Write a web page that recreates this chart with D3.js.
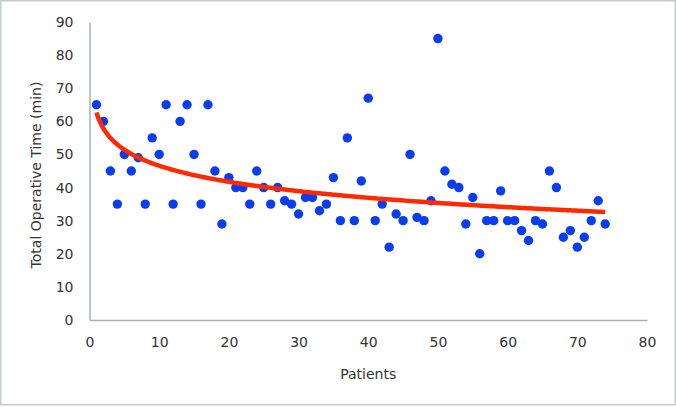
<!DOCTYPE html>
<html>
<head>
<meta charset="utf-8">
<script src="https://cdn.jsdelivr.net/npm/d3@7"></script>
<style>
  html, body { margin: 0; padding: 0; background: #fff; }
  svg { display: block; }
  text { font-family: "DejaVu Sans", Verdana, sans-serif; fill: #333; }
</style>
</head>
<body>
<svg id="chart" width="676" height="407"></svg>
<script>
// Data
const patients = d3.range(1, 75);
const operativeTime = [
  65, 60, 45, 35, 50, 45, 49, 35, 55, 50,
  65, 35, 60, 65, 50, 35, 65, 45, 29, 43,
  40, 40, 35, 45, 40, 35, 40, 36, 35, 32,
  37, 37, 33, 35, 43, 30, 55, 30, 42, 67,
  30, 35, 22, 32, 30, 50, 31, 30, 36, 85,
  45, 41, 40, 29, 37, 20, 30, 30, 39, 30,
  30, 27, 24, 30, 29, 45, 40, 25, 27, 22,
  25, 30, 36, 29
];
const xTicks = [0, 10, 20, 30, 40, 50, 60, 70, 80];
const yTicks = [0, 10, 20, 30, 40, 50, 60, 70, 80, 90];
const xTitle = "Patients";
const yTitle = "Total Operative Time (min)";

const svg = d3.select("#chart");
const W = 676, H = 407;
const margin = { left: 89.5, right: 29, top: 22, bottom: 87 };

// outer frame
svg.append("rect")
  .attr("x", 0.75).attr("y", 0.75).attr("width", W - 1.5).attr("height", H - 3)
  .attr("fill", "#fff").attr("stroke", "#c4cccc").attr("stroke-width", 1.5);

const x = d3.scaleLinear().domain([0, 80]).range([margin.left, W - margin.right]);
const y = d3.scaleLinear().domain([0, 90]).range([H - margin.bottom, margin.top]);

// axes
const xAxis = d3.axisBottom(x).tickValues(xTicks).tickSize(0).tickPadding(17);
const yAxis = d3.axisLeft(y).tickValues(yTicks).tickSize(0).tickPadding(16);

const gx = svg.append("g").attr("transform", `translate(0,${y(0)})`).call(xAxis);
const gy = svg.append("g").attr("transform", `translate(${x(0)},0)`).call(yAxis);
[gx, gy].forEach(g => {
  g.select(".domain").attr("stroke", "#a9b2b2").attr("stroke-width", 1.5);
  g.selectAll("text").attr("font-size", 14).attr("fill", "#333")
    .attr("font-family", "'DejaVu Sans', Verdana, sans-serif");
});

// axis titles
svg.append("text")
  .attr("x", (x(0) + x(80)) / 2).attr("y", 379)
  .attr("text-anchor", "middle").attr("font-size", 14)
  .text(xTitle);
svg.append("text")
  .attr("transform", `translate(41,${(y(0) + y(90)) / 2 + 4}) rotate(-90)`)
  .attr("text-anchor", "middle").attr("font-size", 14)
  .text(yTitle);

// points
const pts = patients.map((p, i) => ({ p, t: operativeTime[i] }));
svg.append("g").selectAll("circle").data(pts).join("circle")
  .attr("cx", d => x(d.p)).attr("cy", d => y(d.t)).attr("r", 4.7)
  .attr("fill", "#0a3cf0");

// logarithmic trendline (least squares fit of t = a + b ln p)
const lx = pts.map(d => Math.log(d.p));
const mx = d3.mean(lx), my = d3.mean(pts, d => d.t);
let sxy = 0, sxx = 0;
pts.forEach((d, i) => { sxy += (lx[i] - mx) * (d.t - my); sxx += (lx[i] - mx) ** 2; });
const b = sxy / sxx, a = my - b * mx;
const trend = d3.range(1, 74.01, 0.25).map(p => ({ p, t: a + b * Math.log(p) }));
svg.append("path")
  .datum(trend)
  .attr("fill", "none").attr("stroke", "#ff2a00").attr("stroke-width", 4.5)
  .attr("stroke-linecap", "butt")
  .attr("d", d3.line().x(d => x(d.p)).y(d => y(d.t)));
</script>
</body>
</html>
